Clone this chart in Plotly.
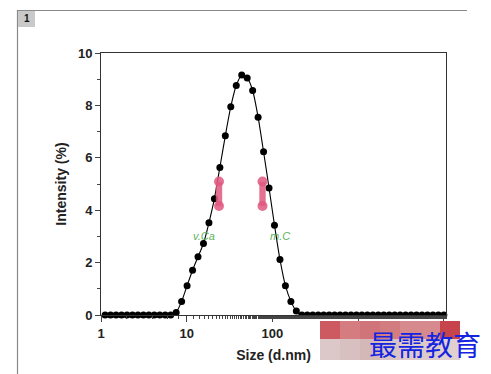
import plotly.graph_objects as go

# Zetasizer size bins (d.nm) within the visible axis range
sizes = [1.117, 1.294, 1.499, 1.736, 2.010, 2.328, 2.696, 3.122, 3.615, 4.187,
         4.849, 5.615, 6.503, 7.531, 8.721, 10.10, 11.70, 13.54, 15.69, 18.17,
         21.04, 24.36, 28.21, 32.67, 37.84, 43.82, 50.75, 58.77, 68.06, 78.82,
         91.28, 105.7, 122.4, 141.8, 164.2, 190.1, 220.2, 255.0, 295.3, 342.0,
         396.1, 458.7, 531.2, 615.1, 712.4, 825.0, 955.4, 1106, 1281, 1484,
         1718, 1990, 2305, 2669, 3091, 3580, 4145, 4801, 5560, 6439, 7456,
         8635, 10000]
intensity = [0, 0, 0, 0, 0, 0, 0, 0, 0, 0,
             0, 0, 0, 0.1, 0.52, 1.12, 1.71, 2.22, 2.73, 3.52,
             4.44, 5.63, 6.84, 7.95, 8.76, 9.16, 9.05, 8.57, 7.55, 6.23,
             4.85, 3.43, 2.12, 1.12, 0.52, 0.15, 0, 0, 0, 0,
             0, 0, 0, 0, 0, 0, 0, 0, 0, 0,
             0, 0, 0, 0, 0, 0, 0, 0, 0, 0, 0,
             0, 0]

x_ticks = [1, 10, 100, 1000, 10000]
x_ticktext = ["1", "10", "100", "", ""]   # 1000 / 10000 hidden under the watermark
y_ticks = [0, 2, 4, 6, 8, 10]

OFF = 8                      # page body margin
W, H = 491 - OFF, 374 - OFF
L, R, T, B = 101 - OFF, 45, 53 - OFF, 59
PW, PH = W - L - R, H - T - B

def px(x):                   # page pixel -> paper fraction
    return (x - OFF - L) / PW

def py(y):
    return (H - B - (y - OFF)) / PH

fig = go.Figure()
fig.add_trace(go.Scatter(
    x=sizes, y=intensity, mode="lines+markers",
    line=dict(color="black", width=1.1, shape="spline", smoothing=0.6),
    marker=dict(color="black", size=7),
    cliponaxis=False, showlegend=False,
))

axis_font = dict(family="Liberation Sans, Arial", size=13, color="#222", weight="bold")

fig.update_layout(
    width=W, height=H,
    margin=dict(l=L, r=R, t=T, b=B),
    paper_bgcolor="white", plot_bgcolor="white",
    font=dict(family="Liberation Sans, Arial", color="#222"),
    xaxis=dict(
        type="log", range=[0, 4.025],
        tickvals=x_ticks, ticktext=x_ticktext,
        ticks="outside", ticklen=6, tickwidth=1, tickcolor="#444",
        minor=dict(ticks="outside", ticklen=3, tickcolor="#444", showgrid=False),
        showline=True, linecolor="#333", linewidth=1, mirror=True,
        showgrid=False, zeroline=False,
        tickfont=axis_font,
        title=dict(text="Size (d.nm)", font=dict(family="Liberation Sans, Arial", size=14, color="#222", weight="bold"), standoff=10),
    ),
    yaxis=dict(
        range=[0, 10],
        tickvals=y_ticks,
        ticks="outside", ticklen=5, tickwidth=1, tickcolor="#444",
        minor=dict(dtick=1, ticks="outside", ticklen=3, tickcolor="#444", showgrid=False),
        showline=True, linecolor="#333", linewidth=1, mirror=True,
        showgrid=False, zeroline=False,
        tickfont=axis_font,
        title=dict(text="Intensity (%)", font=dict(family="Liberation Sans, Arial", size=14, color="#222", weight="bold"), standoff=8),
    ),
)

shapes = []
# outer frame lines and the "1" box
shapes.append(dict(type="line", xref="paper", yref="paper", x0=px(17), x1=px(467), y0=py(10.5), y1=py(10.5),
                   line=dict(color="#8a8a8a", width=1.2), layer="above"))
shapes.append(dict(type="line", xref="paper", yref="paper", x0=px(17.5), x1=px(17.5), y0=py(10), y1=py(374),
                   line=dict(color="#8a8a8a", width=1.2), layer="above"))
shapes.append(dict(type="rect", xref="paper", yref="paper", x0=px(18), x1=px(35), y0=py(11), y1=py(27),
                   fillcolor="#c9c9c9", line=dict(width=0), layer="above"))

# stray pink watermark marks inside the plot
pink = "#e0587f"
for cx in (219, 262.5):
    shapes.append(dict(type="rect", xref="paper", yref="paper", x0=px(cx - 3.2), x1=px(cx + 3.2), y0=py(182), y1=py(206),
                       fillcolor=pink, line=dict(width=0), layer="above", opacity=0.85))
    for cy in (181.5, 206):
        shapes.append(dict(type="circle", xref="paper", yref="paper", x0=px(cx - 5), x1=px(cx + 5),
                           y0=py(cy - 5), y1=py(cy + 5),
                           fillcolor=pink, line=dict(width=0), layer="above", opacity=0.85))

# watermark blocks bottom-right
top_cols = ["#cc5a60", "#d47c80", "#d0747a", "#d27c80", "#d68a8e", "#d68a8e", "#c8444c"]
bot_cols = ["#dcc8c8", "#d8c0c0", "#d4b8b8", "#d8c4c4", "#dccaca", "#dccaca", "#e0d0d0"]
for i in range(7):
    x0 = 320 + i * 20
    shapes.append(dict(type="rect", xref="paper", yref="paper", x0=px(x0), x1=px(x0 + 20), y0=py(339), y1=py(321),
                       fillcolor=top_cols[i], line=dict(width=0), layer="above"))
    shapes.append(dict(type="rect", xref="paper", yref="paper", x0=px(x0), x1=px(x0 + 20), y0=py(360), y1=py(339),
                       fillcolor=bot_cols[i], line=dict(width=0), layer="above"))
fig.update_layout(shapes=shapes)

def note(text, x, y, font):
    return dict(text=text, x=px(x), y=py(y), xref="paper", yref="paper", showarrow=False,
                xanchor="center", yanchor="middle", font=font)

anns = [
    note("1", 26.5, 19, dict(family="Liberation Sans, Arial", size=10, color="#111", weight="bold")),
    note("v.Ca", 204, 236, dict(family="Liberation Sans, Arial", size=11, color="#5cb35c", style="italic")),
    note("m.C", 280, 236, dict(family="Liberation Sans, Arial", size=11, color="#5cb35c", style="italic")),
    note("最需教育", 425, 344, dict(family="Noto Sans CJK SC", size=28, color="#1424e0")),
]
fig.update_layout(annotations=anns)

fig.write_html("out.html")
